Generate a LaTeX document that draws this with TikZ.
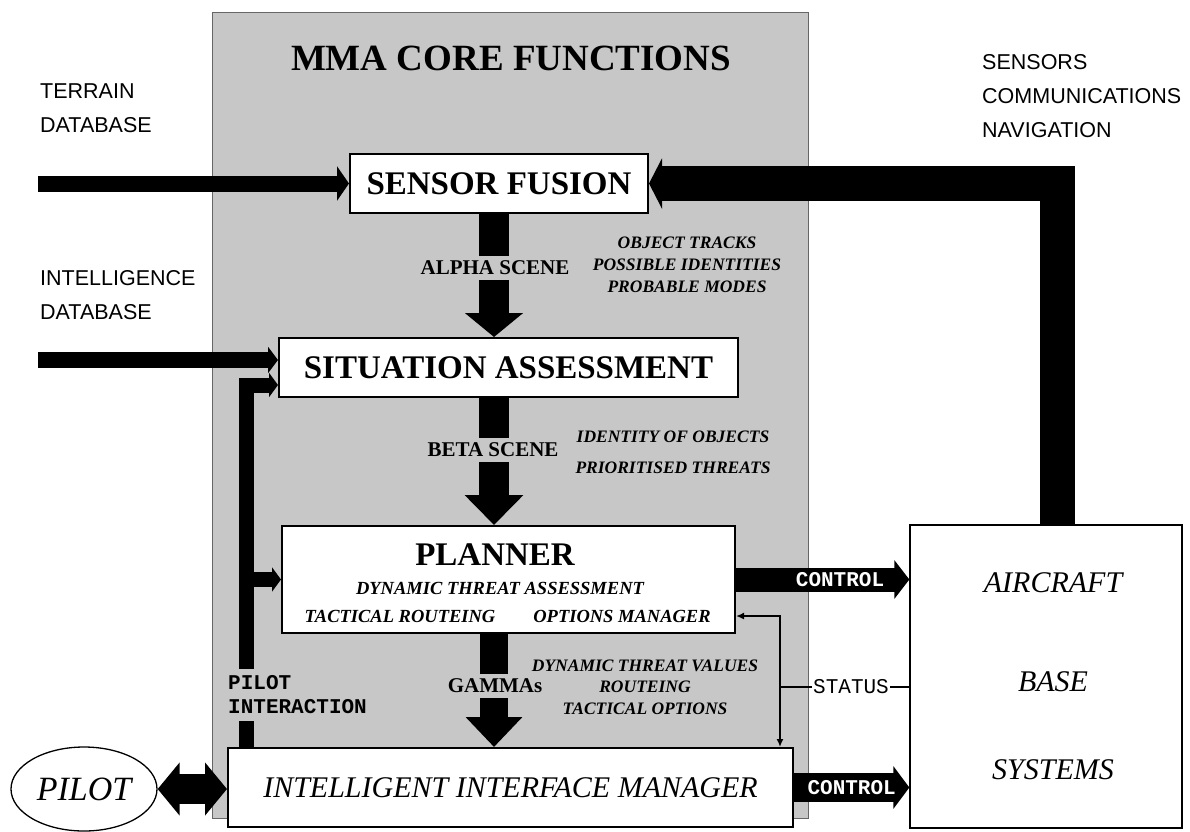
\documentclass[tikz,border=0pt]{standalone}
\usepackage{fontspec}
\setmainfont{Liberation Serif}
\setsansfont{Liberation Sans}
\setmonofont{Liberation Mono}
\usepackage{xcolor}
\usetikzlibrary{arrows.meta, positioning, shapes.geometric, calc}
\definecolor{panelgray}{gray}{0.78}

\begin{document}
\begin{tikzpicture}[x=1pt, y=-1pt,
  panel/.style={draw=black!60, line width=0.8pt, fill=panelgray, inner sep=0pt},
  corebox/.style={draw=black, line width=2pt, fill=white, inner sep=0pt},
  extbox/.style={draw=black, line width=1.3pt, fill=white, inner sep=0pt},
  boxtitle/.style={font=\fontsize{33}{36}\selectfont\bfseries},
  subtext/.style={inner sep=0pt, font=\fontsize{18.5}{22}\selectfont\bfseries\itshape},
  datatext/.style={align=center, inner sep=0pt, font=\fontsize{17.5}{#1}\selectfont\bfseries\itshape},
  scenelabel/.style={fill=panelgray, inner xsep=2pt, inner ysep=5pt, font=\fontsize{21}{24}\selectfont\bfseries},
  extlabel/.style={align=left, anchor=west, inner sep=0pt, font=\fontsize{21.5}{34}\selectfont\sffamily},
  monotext/.style={inner sep=1pt, font=\fontsize{21}{24}\selectfont\ttfamily},
  ctrltext/.style={inner sep=0pt, text=white, font=\fontsize{21}{24}\selectfont\ttfamily\bfseries}]
  \useasboundingbox (0,0) rectangle (1190,831);

  % core functions panel
  \node[panel, minimum width=596pt, minimum height=806pt] (core) at (510,415) {};
  \node[font=\fontsize{37}{40}\selectfont\bfseries] (title) at (511,58) {MMA CORE FUNCTIONS};

  % external sources
  \node[extlabel] (terrain) at (40,108) {TERRAIN\\DATABASE};
  \node[extlabel] (intel) at (40,295) {INTELLIGENCE\\DATABASE};
  \node[extlabel] (sensors) at (982,96) {SENSORS\\COMMUNICATIONS\\NAVIGATION};

  % core boxes
  \node[corebox, boxtitle, minimum width=298pt, minimum height=59pt] (sf) at (499,183.5) {SENSOR FUSION};
  \node[corebox, boxtitle, minimum width=459pt, minimum height=59pt] (sa) at (508.5,367.5) {SITUATION ASSESSMENT};
  \node[corebox, minimum width=453pt, minimum height=107pt] (planner) at (508.5,579.5) {};
  \node[boxtitle, inner sep=0pt] (plannertitle) at (495,555) {PLANNER};
  \node[subtext] (dta) at (500,588) {DYNAMIC THREAT ASSESSMENT};
  \node[subtext] (routeing) at (400,616) {TACTICAL ROUTEING};
  \node[subtext] (options) at (622,616) {OPTIONS MANAGER};
  \node[corebox, minimum width=565pt, minimum height=79pt,
        font=\fontsize{30}{34}\selectfont\itshape] (iim) at (510.5,787.5) {INTELLIGENT INTERFACE MANAGER};

  % aircraft and pilot
  \node[extbox, minimum width=272pt, minimum height=303pt] (aircraft) at (1046,676.5) {};
  \foreach \word/\y [count=\i] in {AIRCRAFT/583, BASE/682, SYSTEMS/770}
    \node[font=\fontsize{30}{34}\selectfont\itshape] (acline\i) at (1053,\y) {\word};
  \node[ellipse, draw, line width=1.3pt, fill=white, minimum width=146pt, minimum height=84pt, inner sep=0pt,
        font=\fontsize{34}{38}\selectfont\itshape] (pilot) at (84,789) {PILOT};

  % columns of the connectors
  \coordinate (spine) at (494,0);
  \coordinate (pilotcol) at (246,0);
  \coordinate (sensorcol) at (1057,0);
  \coordinate (inputcol) at (38,0);
  \coordinate (statj) at (780,687);
  \coordinate (intelin) at ([yshift=7.5pt]sa.west);
  \coordinate (pilotin) at ([yshift=-17.5pt]sa.west);
  \coordinate (statin) at ([yshift=-36.5pt]planner.east);

  % alpha, beta and gamma scenes
  \draw[line width=30pt, -{Triangle[width=57pt, length=24pt]}] (sf.south -| spine) -- (sa.north -| spine);
  \draw[line width=30pt, -{Triangle[width=57pt, length=30pt]}] (sa.south -| spine) -- (planner.north -| spine);
  \draw[line width=28pt, -{Triangle[width=55pt, length=30pt]}] (planner.south -| spine) -- (iim.north -| spine);
  \node[scenelabel] (alpha) at (495,268) {ALPHA SCENE};
  \node[scenelabel] (beta) at (493,450) {BETA SCENE};
  \node[scenelabel] (gamma) at (495,686) {GAMMAs};
  \node[datatext=22pt] (alphadata) at (687,265) {OBJECT TRACKS\\POSSIBLE IDENTITIES\\PROBABLE MODES};
  \node[datatext=31pt] (betadata) at (673,452) {IDENTITY OF OBJECTS\\PRIORITISED THREATS};
  \node[datatext=21.5pt] (gammadata) at (645,687) {DYNAMIC THREAT VALUES\\ROUTEING\\TACTICAL OPTIONS};

  % sensors, communications, navigation feed
  \draw[line width=35pt, line join=miter, -{Triangle[width=50pt, length=13pt]}] (aircraft.north -| sensorcol) |- (sf.east);

  % database inputs
  \draw[line width=16pt, -{Triangle[width=34pt, length=12pt]}] (inputcol |- sf.west) -- (sf.west);
  \draw[line width=16pt, -{Triangle[width=26pt, length=10pt]}] (inputcol |- intelin) -- (intelin);

  % pilot interaction
  \draw[line width=15pt, line join=miter, -{Triangle[width=24pt, length=9pt]}] (iim.north -| pilotcol) |- (pilotin);
  \draw[line width=15pt, -{Triangle[width=24pt, length=9pt]}] (pilotcol |- planner.west) -- (planner.west);
  \node[fill=panelgray, anchor=west, align=left, inner xsep=2pt, inner ysep=7pt,
        font=\fontsize{21}{24}\selectfont\ttfamily\bfseries] (pilotint) at (226,695) {PILOT\\INTERACTION};

  % control outputs
  \draw[line width=24pt, -{Triangle[width=38pt, length=15pt]}] (planner.east)
    -- node[pos=0.6, ctrltext] (ctrlup) {CONTROL} (planner.east -| aircraft.west);
  \draw[line width=29pt, -{Triangle[width=42pt, length=16pt]}] (iim.east)
    -- node[midway, ctrltext] (ctrllow) {CONTROL} (iim.east -| aircraft.west);

  % status feedback
  \node[monotext] (status) at (851,687) {STATUS};
  \draw[line width=2pt] (aircraft.west |- statj) -- (status.east);
  \draw[line width=2pt] (status.west) -- (statj);
  \draw[line width=2pt, -{Latex[length=8pt, width=7pt]}] (statj) |- (statin);
  \draw[line width=2pt, -{Latex[length=8pt, width=7pt]}] (statj) -- (statj |- iim.north);

  % pilot link
  \draw[line width=30pt, {Triangle[width=52pt, length=22pt]}-{Triangle[width=52pt, length=22pt]}]
    (pilot.east) -- (pilot.east -| iim.west);
\end{tikzpicture}
\end{document}
